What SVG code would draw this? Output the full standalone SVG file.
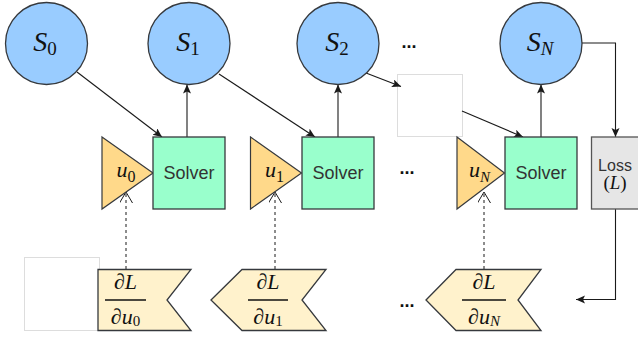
<svg xmlns="http://www.w3.org/2000/svg" width="638" height="339" viewBox="0 0 638 339">
  <defs>
    <marker id="arrow" markerUnits="userSpaceOnUse" markerWidth="10" markerHeight="9" refX="9" refY="4" orient="auto">
      <path d="M0,0 L9,4 L0,8 L2,4 Z" fill="#1a1a1a"/>
    </marker>
    <marker id="open" markerUnits="userSpaceOnUse" markerWidth="16" markerHeight="16" refX="12" refY="6.5" orient="auto">
      <path d="M1,0 L12,6.5 L1,13" fill="none" stroke="#1a1a1a" stroke-width="1"/>
    </marker>
  </defs>
  <style>
    .state { fill: #99ccff; stroke: #36393d; stroke-width: 1.3; }
    .solver { fill: #99ffcc; stroke: #36393d; stroke-width: 1.3; }
    .ctrl { fill: #ffd98a; stroke: #36393d; stroke-width: 1.2; }
    .grad { fill: #fff2cc; stroke: #36393d; stroke-width: 1.3; }
    .loss { fill: #e6e6e6; stroke: #555555; stroke-width: 1.3; }
    .blank { fill: #ffffff; stroke: #dddddd; stroke-width: 1; }
    .edge { fill: none; stroke: #1a1a1a; stroke-width: 1.1; }
    .dash { fill: none; stroke: #1a1a1a; stroke-width: 1; stroke-dasharray: 3 3; }
    .sans { font-family: "Liberation Sans", Arial, sans-serif; fill: #333333; text-anchor: middle; }
    .math { font-family: "Liberation Serif", "Times New Roman", serif; fill: #111111; text-anchor: middle; }
    .it { font-style: italic; }
    .bar { stroke: #111111; stroke-width: 1.4; }
    .dots { font-family: "Liberation Sans", Arial, sans-serif; font-size: 18px; font-weight: bold; fill: #111111; text-anchor: middle; }
  </style>

  <!-- placeholder blanks -->
  <rect id="blank-top" class="blank" x="397.5" y="74.5" width="65" height="62" stroke="#ececec"/>
  <rect id="blank-bottom" class="blank" x="24.5" y="257.5" width="75" height="73"/>

  <!-- connectors -->
  <g id="connectors">
    <line class="edge" x1="77" y1="72" x2="162" y2="137" marker-end="url(#arrow)"/>
    <line class="edge" x1="187" y1="137" x2="187" y2="84.5" marker-end="url(#arrow)"/>
    <line class="edge" x1="219" y1="74" x2="315" y2="137" marker-end="url(#arrow)"/>
    <line class="edge" x1="338" y1="137" x2="338" y2="84.5" marker-end="url(#arrow)"/>
    <line class="edge" x1="366" y1="73" x2="401" y2="86.5" marker-end="url(#arrow)"/>
    <line class="edge" x1="462" y1="111" x2="523" y2="137" marker-end="url(#arrow)"/>
    <line class="edge" x1="541" y1="137" x2="541" y2="84.5" marker-end="url(#arrow)"/>
    <path class="edge" d="M582,43 H615.5 V137" marker-end="url(#arrow)"/>
    <path class="edge" d="M615.5,209 V299.5 H576" marker-end="url(#arrow)"/>
    <line class="dash" x1="126" y1="269" x2="126" y2="192" marker-end="url(#open)"/>
    <line class="dash" x1="275" y1="269" x2="275" y2="192" marker-end="url(#open)"/>
    <line class="dash" x1="484" y1="269" x2="484" y2="192" marker-end="url(#open)"/>
  </g>

  <!-- states -->
  <g id="S0">
    <circle class="state" cx="46.5" cy="43.5" r="41"/>
    <text class="math" x="45" y="51" font-size="28"><tspan class="it">S</tspan><tspan font-size="19" dy="4">0</tspan></text>
  </g>
  <g id="S1">
    <circle class="state" cx="189" cy="43.5" r="41"/>
    <text class="math" x="188" y="51" font-size="28"><tspan class="it">S</tspan><tspan font-size="19" dy="4">1</tspan></text>
  </g>
  <g id="S2">
    <circle class="state" cx="338" cy="43.5" r="41"/>
    <text class="math" x="337" y="51" font-size="28"><tspan class="it">S</tspan><tspan font-size="19" dy="4">2</tspan></text>
  </g>
  <g id="SN">
    <circle class="state" cx="541" cy="43.5" r="41"/>
    <text class="math" x="540" y="51" font-size="28"><tspan class="it">S</tspan><tspan class="it" font-size="19" dy="4">N</tspan></text>
  </g>

  <!-- controls -->
  <g id="u0">
    <polygon class="ctrl" points="102,137 153,173 102,209"/>
    <text class="math" x="126" y="177" font-size="22"><tspan class="it">u</tspan><tspan font-size="16" dy="5">0</tspan></text>
  </g>
  <g id="u1">
    <polygon class="ctrl" points="250.5,137 301.5,173 250.5,209"/>
    <text class="math" x="274.5" y="177" font-size="22"><tspan class="it">u</tspan><tspan font-size="16" dy="5">1</tspan></text>
  </g>
  <g id="uN">
    <polygon class="ctrl" points="457,137 504.5,173 457,209"/>
    <text class="math" x="479.5" y="177" font-size="22"><tspan class="it">u</tspan><tspan class="it" font-size="15" dy="5">N</tspan></text>
  </g>

  <!-- solvers -->
  <g id="solver0">
    <rect class="solver" x="153" y="137" width="72" height="72"/>
    <text class="sans" x="189" y="179" font-size="18">Solver</text>
  </g>
  <g id="solver1">
    <rect class="solver" x="302" y="137" width="72" height="72"/>
    <text class="sans" x="338" y="179" font-size="18">Solver</text>
  </g>
  <g id="solverN">
    <rect class="solver" x="505" y="137" width="72" height="72"/>
    <text class="sans" x="541" y="179" font-size="18">Solver</text>
  </g>

  <!-- loss -->
  <g id="loss">
    <rect class="loss" x="591.5" y="137" width="48" height="72"/>
    <text class="sans" x="615" y="171" font-size="16">Loss</text>
    <text class="math" x="615" y="189" font-size="19">(<tspan class="it">L</tspan>)</text>
  </g>

  <!-- gradients -->
  <g id="grad0">
    <polygon class="grad" points="98,269.5 191,269.5 167,300 191,330.5 98,330.5"/>
    <text class="math it" x="125.5" y="289" font-size="22">∂L</text>
    <line class="bar" x1="105" y1="300" x2="146" y2="300"/>
    <text class="math" x="125.5" y="324" font-size="22"><tspan class="it">∂u</tspan><tspan font-size="15" dy="2">0</tspan></text>
  </g>
  <g id="grad1">
    <polygon class="grad" points="211,300 242,269.5 326,269.5 302,300 326,330.5 242,330.5"/>
    <text class="math it" x="268" y="289" font-size="22">∂L</text>
    <line class="bar" x1="248" y1="300" x2="288" y2="300"/>
    <text class="math" x="268" y="324" font-size="22"><tspan class="it">∂u</tspan><tspan font-size="15" dy="2">1</tspan></text>
  </g>
  <g id="gradN">
    <polygon class="grad" points="426,300 456,269.5 541,269.5 518,300 541,330.5 456,330.5"/>
    <text class="math it" x="484" y="289" font-size="22">∂L</text>
    <line class="bar" x1="462" y1="300" x2="506" y2="300"/>
    <text class="math" x="484" y="324" font-size="22"><tspan class="it">∂u</tspan><tspan class="it" font-size="15" dy="2">N</tspan></text>
  </g>

  <!-- ellipses -->
  <text class="dots" x="409" y="48">...</text>
  <text class="dots" x="407" y="174">...</text>
  <text class="dots" x="407" y="307">...</text>
</svg>
